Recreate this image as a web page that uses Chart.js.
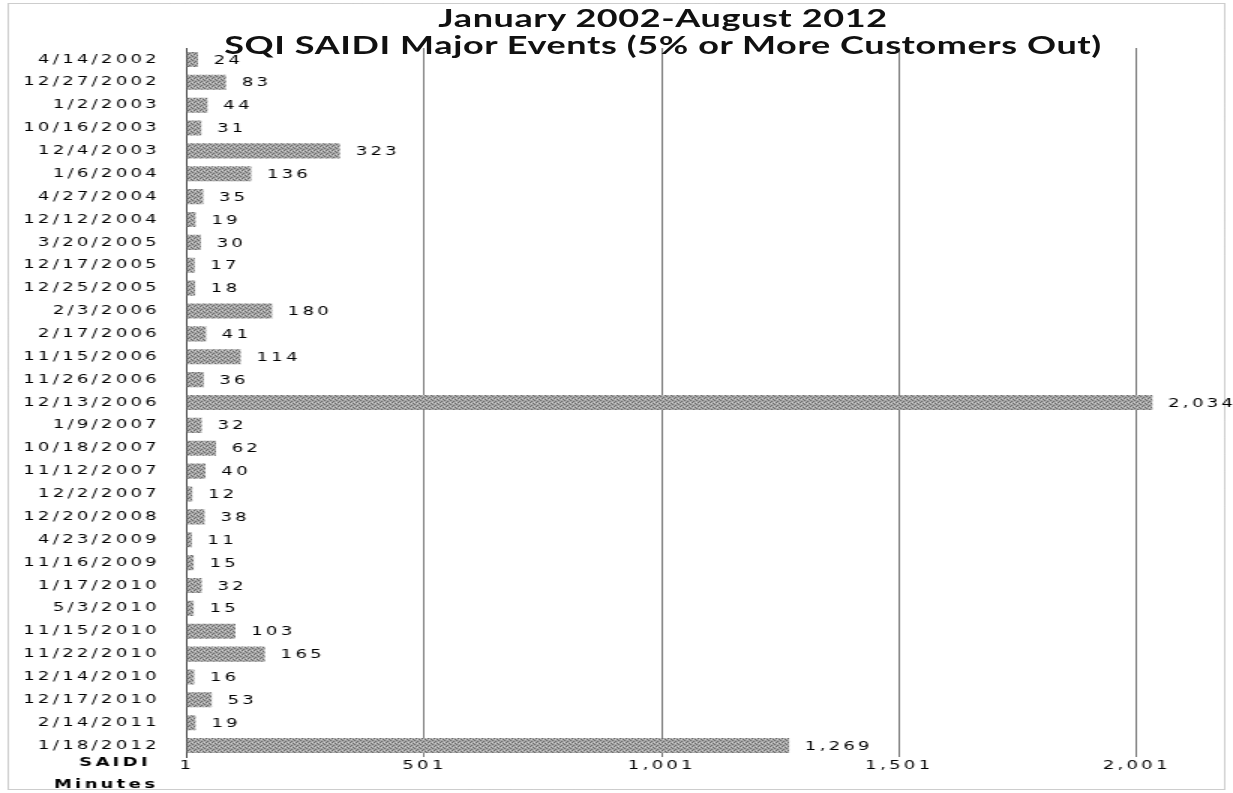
<!DOCTYPE html>
<html>
<head>
<meta charset="utf-8">
<script src="https://cdn.jsdelivr.net/npm/chart.js"></script>
<style>
  html, body { margin: 0; padding: 0; background: #fff; overflow: hidden; }
  #wrap { position: relative; width: 822px; height: 793px; transform: scaleX(1.5); transform-origin: 0 0; }
  #title { position: absolute; top: 4px; left: 442px; transform: translateX(-50%); white-space: nowrap;
           font: bold 24px Lato, "Open Sans", sans-serif; letter-spacing: 0.4px; line-height: 27px;
           text-align: center; color: #111; }
  canvas { position: absolute; left: 0; top: 0; }
</style>
</head>
<body>
<div id="wrap">
  <canvas id="chart" width="822" height="793"></canvas>
  <div id="title">January 2002-August 2012<br>SQI SAIDI Major Events (5% or More Customers Out)</div>
</div>
<script>
// event dates, top to bottom
const eventDates = ["4/14/2002", "12/27/2002", "1/2/2003", "10/16/2003", "12/4/2003", "1/6/2004",
  "4/27/2004", "12/12/2004", "3/20/2005", "12/17/2005", "12/25/2005", "2/3/2006", "2/17/2006",
  "11/15/2006", "11/26/2006", "12/13/2006", "1/9/2007", "10/18/2007", "11/12/2007", "12/2/2007",
  "12/20/2008", "4/23/2009", "11/16/2009", "1/17/2010", "5/3/2010", "11/15/2010", "11/22/2010",
  "12/14/2010", "12/17/2010", "2/14/2011", "1/18/2012"];
const saidiMinutes = [24, 83, 44, 31, 323, 136, 35, 19, 30, 17, 18, 180, 41, 114, 36, 2034,
  32, 62, 40, 12, 38, 11, 15, 32, 15, 103, 165, 16, 53, 19, 1269];
const xTicks = [1, 501, 1001, 1501, 2001];
const xMin = 1, xMax = 2150;

const tickFont = { family: "DejaVu Sans", size: 12 };

// grey speckled fill like the scanned bars
function barPattern() {
  const c = document.createElement('canvas');
  c.width = 4; c.height = 4;
  const g = c.getContext('2d');
  g.fillStyle = '#a8a8a8';
  g.fillRect(0, 0, 4, 4);
  g.fillStyle = '#686868';
  [[0, 0], [2, 1], [1, 2], [3, 3]].forEach(p => g.fillRect(p[0], p[1], 1, 1));
  g.fillStyle = '#d2d2d2';
  [[2, 3], [0, 2]].forEach(p => g.fillRect(p[0], p[1], 1, 1));
  return g.createPattern(c, 'repeat');
}

const extras = {
  id: 'extras',
  beforeDraw(chart) {
    chart.ctx.letterSpacing = '2.2px';
    const ctx = chart.ctx;
    ctx.save();
    ctx.strokeStyle = '#9a9a9a';
    ctx.setLineDash([1, 1]);
    ctx.lineWidth = 1;
    ctx.strokeRect(5.5, 3.5, 811, 786);
    ctx.restore();
  },
  afterDatasetsDraw(chart) {
    const ctx = chart.ctx;
    const meta = chart.getDatasetMeta(0);
    ctx.save();
    ctx.font = '12px "DejaVu Sans"';
    ctx.fillStyle = '#000';
    ctx.textBaseline = 'middle';
    ctx.textAlign = 'left';
    meta.data.forEach((bar, i) => {
      ctx.fillText(saidiMinutes[i].toLocaleString('en-US'), bar.x + 10.5, bar.y + 1);
    });
    // axis caption at the left of the value ticks
    const y = chart.scales.y;
    const x = chart.scales.x;
    ctx.font = 'bold 12px "DejaVu Sans"';
    ctx.textAlign = 'center';
    ctx.fillText('SAIDI', y.right - 48, x.top + 6);
    ctx.fillText('Minutes', y.right - 54, x.top + 28);
    ctx.restore();
  }
};

new Chart(document.getElementById('chart'), {
  type: 'bar',
  data: {
    labels: eventDates,
    datasets: [{
      data: saidiMinutes,
      backgroundColor: barPattern(),
      borderWidth: 0,
      barPercentage: 0.66,
      categoryPercentage: 1
    }]
  },
  options: {
    indexAxis: 'y',
    responsive: false,
    animation: false,
    devicePixelRatio: 1,
    layout: { padding: { left: 5, right: 17, top: 48, bottom: 6 } },
    plugins: { legend: { display: false }, tooltip: { enabled: false } },
    scales: {
      x: {
        min: xMin,
        max: xMax,
        afterBuildTicks(scale) { scale.ticks = xTicks.map(v => ({ value: v })); },
        afterFit(scale) { scale.height = 30; },
        grid: {
          color: ctx => (ctx.tick && ctx.tick.value === xMin) ? 'rgba(0,0,0,0)' : '#7a7a7a',
          lineWidth: 1,
          drawTicks: false
        },
        border: { display: false },
        ticks: {
          autoSkip: false,
          maxRotation: 0,
          padding: 2,
          color: '#000',
          font: tickFont,
          callback: v => v.toLocaleString('en-US')
        }
      },
      y: {
        afterFit(scale) { scale.width = 119.7; },
        grid: { display: false },
        border: { display: true, color: '#444', width: 1 },
        ticks: {
          autoSkip: false,
          padding: 10,
          color: '#000',
          font: tickFont
        }
      }
    }
  },
  plugins: [extras]
});
</script>
</body>
</html>
